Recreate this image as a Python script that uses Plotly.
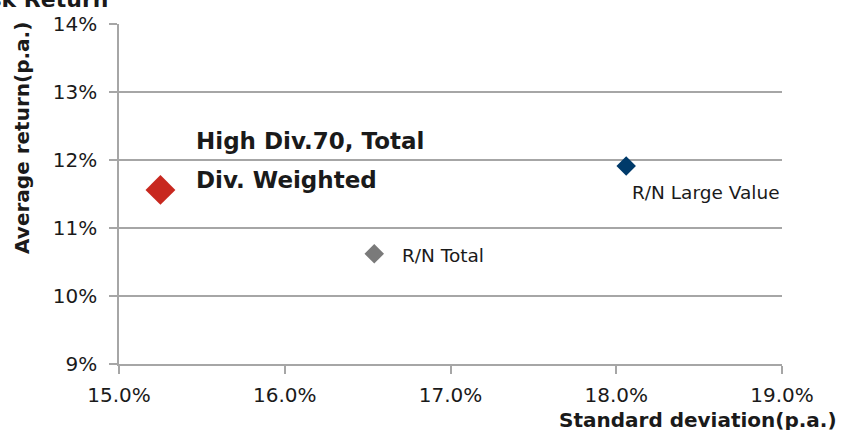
import plotly.graph_objects as go

# Data (percent p.a.)
names = ["High Div.70, Total Div. Weighted", "R/N Total", "R/N Large Value"]
std_dev = [15.25, 16.54, 18.06]
avg_return = [11.56, 10.62, 11.91]
colors = ["#C8281F", "#7A7A7A", "#003A6A"]
sizes = [23, 15, 15]

x_ticks = [15.0, 16.0, 17.0, 18.0, 19.0]
x_ticklabels = ["15.0%", "16.0%", "17.0%", "18.0%", "19.0%"]
y_ticks = [9, 10, 11, 12, 13, 14]
y_ticklabels = ["9%", "10%", "11%", "12%", "13%", "14%"]

FONT = "DejaVu Sans, Verdana, sans-serif"
TXT = "#1A1A1A"
GRID = "#A6A6A6"

fig = go.Figure()
for i in range(len(names)):
    fig.add_trace(go.Scatter(
        x=[std_dev[i]], y=[avg_return[i]], mode="markers", name=names[i],
        marker=dict(symbol="diamond", size=sizes[i], color=colors[i], line=dict(width=0)),
        showlegend=False, hoverinfo="skip",
    ))

# Point labels
fig.add_annotation(x=std_dev[0], y=avg_return[0], text="<b>High Div.70, Total</b>",
                   xanchor="left", yanchor="middle", xshift=34, yshift=49, showarrow=False,
                   font=dict(family=FONT, size=23, color=TXT))
fig.add_annotation(x=std_dev[0], y=avg_return[0], text="<b>Div. Weighted</b>",
                   xanchor="left", yanchor="middle", xshift=34, yshift=10, showarrow=False,
                   font=dict(family=FONT, size=23, color=TXT))
fig.add_annotation(x=std_dev[1], y=avg_return[1], text=names[1],
                   xanchor="left", yanchor="middle", xshift=26, yshift=-2, showarrow=False,
                   font=dict(family=FONT, size=18.5, color=TXT))
fig.add_annotation(x=std_dev[2], y=avg_return[2], text=names[2],
                   xanchor="left", yanchor="middle", xshift=4, yshift=-26, showarrow=False,
                   font=dict(family=FONT, size=18.5, color=TXT))

# Axis titles
fig.add_annotation(xref="paper", yref="paper", x=1, y=0, xanchor="right", yanchor="middle",
                   xshift=57, yshift=-56, showarrow=False, text="<b>Standard deviation(p.a.)</b>",
                   font=dict(family=FONT, size=20, color=TXT))
fig.add_annotation(xref="paper", yref="paper", x=0, y=0.665, xanchor="center", yanchor="middle",
                   xshift=-97, showarrow=False, textangle=-90, text="<b>Average return(p.a.)</b>",
                   font=dict(family=FONT, size=20, color=TXT))
# Cropped chart title at top
fig.add_annotation(xref="paper", yref="paper", x=0, y=1, xanchor="right", yanchor="bottom",
                   xshift=-9, yshift=10, showarrow=False, text="<b>Risk Return</b>",
                   font=dict(family=FONT, size=22, color=TXT))

fig.update_layout(
    width=842, height=430,
    margin=dict(l=119, r=60, t=22, b=66),
    paper_bgcolor="white", plot_bgcolor="white",
    font=dict(family=FONT, color=TXT),
    xaxis=dict(range=[15, 19], tickvals=x_ticks, ticktext=x_ticklabels,
               showgrid=False, zeroline=False, showline=True, linecolor=GRID, linewidth=1.5,
               ticks="outside", ticklen=8, tickcolor=GRID, tickwidth=1.5,
               tickfont=dict(family=FONT, size=20, color=TXT), ticklabelstandoff=4),
    yaxis=dict(range=[9, 14], tickvals=y_ticks, ticktext=y_ticklabels,
               showgrid=True, gridcolor=GRID, gridwidth=1.5, zeroline=False,
               showline=True, linecolor=GRID, linewidth=1.5,
               ticks="outside", ticklen=8, tickcolor=GRID, tickwidth=1.5,
               tickfont=dict(family=FONT, size=20, color=TXT), ticklabelstandoff=8),
)

fig.write_html("out.html", config={"displayModeBar": False},
               post_script="document.body.style.margin='0';document.body.style.overflow='hidden';")
